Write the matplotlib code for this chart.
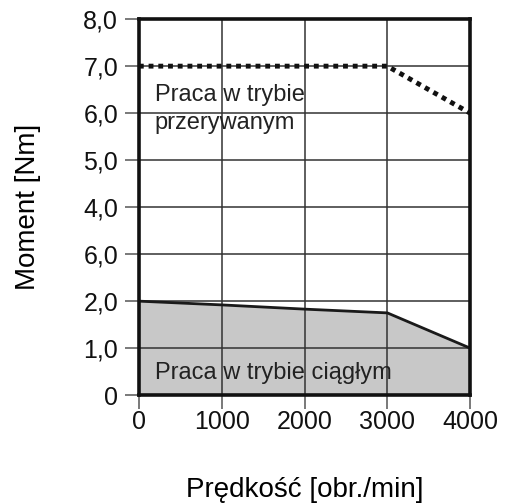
import matplotlib.pyplot as plt

predkosc = [0, 1000, 2000, 3000, 4000]
moment_ciagly = [2.0, 1.92, 1.83, 1.75, 1.0]
predkosc_przer = [0, 3000, 4000]
moment_przer = [7.0, 7.0, 6.0]
y_ticks = [0, 1, 2, 3, 4, 5, 6, 7, 8]
y_labels = ["0", "1,0", "2,0", "6,0", "4,0", "5,0", "6,0", "7,0", "8,0"]
x_ticks = [0, 1000, 2000, 3000, 4000]

plt.rcParams['font.family'] = ['Liberation Sans', 'DejaVu Sans']

fig = plt.figure(figsize=(5.05, 5.04), dpi=100)
ax = fig.add_axes([0.275, 0.216, 0.656, 0.746])

ax.fill_between(predkosc, moment_ciagly, 0, color="#c8c8c8", zorder=1)
ax.plot(predkosc, moment_ciagly, color="#1a1a1a", lw=2, zorder=3)
ax.plot(predkosc_przer, moment_przer, color="#111111", lw=3.5,
        dashes=(1, 1), zorder=3)

ax.set_xlim(0, 4000)
ax.set_ylim(0, 8)
ax.set_xticks(x_ticks)
ax.set_xticklabels([str(v) for v in x_ticks])
ax.set_yticks(y_ticks)
ax.set_yticklabels(y_labels)
ax.grid(True, color="#333333", lw=1.1, zorder=2)
ax.set_axisbelow(False)
ax.tick_params(axis="both", length=10, width=1.1, color="#555555",
               labelsize=18, labelcolor="#111111")
ax.tick_params(axis="y", pad=5)
ax.tick_params(axis="x", pad=1)
for s in ax.spines.values():
    s.set_linewidth(2.6)
    s.set_color("#111111")
    s.set_zorder(4)

ax.text(190, 6.62, "Praca w trybie\nprzerywanym", fontsize=17,
        va="top", ha="left", color="#222222", linespacing=1.35, zorder=5)
ax.text(190, 0.48, "Praca w trybie ciągłym", fontsize=17,
        va="center", ha="left", color="#222222", zorder=5)

ax.set_xlabel("Prędkość [obr./min]", fontsize=20, labelpad=31)
ax.set_ylabel("Moment [Nm]", fontsize=20, labelpad=30)

fig.savefig("out.png", dpi=100)
